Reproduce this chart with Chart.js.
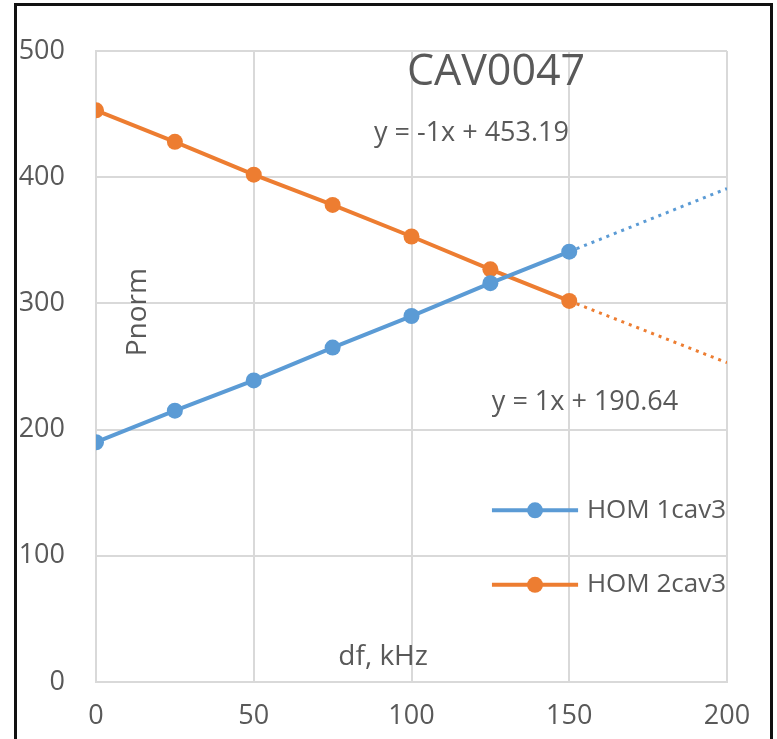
<!DOCTYPE html>
<html lang="en">
<head>
    <meta charset="UTF-8">
    <title>CAV0047</title>
    <script src="https://cdn.jsdelivr.net/npm/chart.js"></script>
    <style>
        body { margin: 0; background: #fff; }
        .wrap { position: relative; width: 777px; height: 739px; }
        .frame { position: absolute; left: 14px; top: 3px; width: 753px; height: 760px; border: 3px solid #111; pointer-events: none; }
    </style>
</head>
<body>
    <div class="wrap">
        <canvas id="myChart" width="777" height="739"></canvas>
        <div class="frame"></div>
    </div>

    <script>
        // df, kHz
        const dfValues = [0, 25, 50, 75, 100, 125, 150];
        const hom1 = [190, 215, 239, 265, 290, 316, 341];
        const hom2 = [453, 428, 402, 378, 353, 327, 302];
        // dotted trendline extensions past the last point
        const trendX = [150, 200];
        const hom1Trend = [341, 391];
        const hom2Trend = [302, 253];

        const seriesNames = ['HOM 1cav3', 'HOM 2cav3'];
        const blue = '#5b9bd5';
        const orange = '#ed7d31';
        const textColor = '#595959';
        const fontFamily = '"Open Sans", sans-serif';

        const toPoints = (xs, ys) => xs.map((x, i) => ({ x: x, y: ys[i] }));

        // text labels placed in data coordinates
        const notes = [
            { text: 'CAV0047', x: 126.8, y: 483, size: 43 },
            { text: 'y = -1x + 453.19', x: 119, y: 435, size: 27 },
            { text: 'y = 1x + 190.64', x: 155, y: 222, size: 27 },
            { text: 'df, kHz', x: 91, y: 20, size: 28 },
            { text: 'Pnorm', x: 13.3, y: 293, size: 28, rotate: true }
        ];

        const extras = {
            id: 'extras',
            afterDatasetsDraw(chart) {
                const ctx = chart.ctx;
                const xs = chart.scales.x, ys = chart.scales.y;
                ctx.save();
                ctx.fillStyle = textColor;
                ctx.textAlign = 'center';
                ctx.textBaseline = 'middle';
                notes.forEach(n => {
                    ctx.font = n.size + 'px ' + fontFamily;
                    const px = xs.getPixelForValue(n.x), py = ys.getPixelForValue(n.y);
                    if (n.rotate) {
                        ctx.save();
                        ctx.translate(px, py);
                        ctx.rotate(-Math.PI / 2);
                        ctx.fillText(n.text, 0, 0);
                        ctx.restore();
                    } else {
                        ctx.fillText(n.text, px, py);
                    }
                });

                // legend inside the plot
                const legendY = [136, 77];
                [blue, orange].forEach((c, i) => {
                    const y = ys.getPixelForValue(legendY[i]);
                    const x1 = xs.getPixelForValue(125.5), x2 = xs.getPixelForValue(152.8);
                    ctx.strokeStyle = c;
                    ctx.lineWidth = 4;
                    ctx.beginPath();
                    ctx.moveTo(x1, y);
                    ctx.lineTo(x2, y);
                    ctx.stroke();
                    ctx.fillStyle = c;
                    ctx.beginPath();
                    ctx.arc((x1 + x2) / 2, y, 8, 0, Math.PI * 2);
                    ctx.fill();
                    ctx.fillStyle = textColor;
                    ctx.textAlign = 'left';
                    ctx.font = '26px ' + fontFamily;
                    ctx.fillText(seriesNames[i], xs.getPixelForValue(155.6), y);
                });
                ctx.restore();
            }
        };

        const ctx = document.getElementById('myChart').getContext('2d');
        new Chart(ctx, {
            type: 'scatter',
            data: {
                datasets: [
                    {
                        label: seriesNames[0] + ' trend',
                        data: toPoints(trendX, hom1Trend),
                        showLine: true,
                        borderColor: blue,
                        borderWidth: 3,
                        borderDash: [3, 5],
                        pointRadius: 0
                    },
                    {
                        label: seriesNames[1] + ' trend',
                        data: toPoints(trendX, hom2Trend),
                        showLine: true,
                        borderColor: orange,
                        borderWidth: 3,
                        borderDash: [3, 5],
                        pointRadius: 0
                    },
                    {
                        label: seriesNames[0],
                        data: toPoints(dfValues, hom1),
                        showLine: true,
                        borderColor: blue,
                        backgroundColor: blue,
                        borderWidth: 4,
                        pointRadius: 8,
                        pointBorderWidth: 0
                    },
                    {
                        label: seriesNames[1],
                        data: toPoints(dfValues, hom2),
                        showLine: true,
                        borderColor: orange,
                        backgroundColor: orange,
                        borderWidth: 4,
                        pointRadius: 8,
                        pointBorderWidth: 0
                    }
                ]
            },
            options: {
                responsive: false,
                animation: false,
                layout: { padding: { top: 51, right: 50, left: 0, bottom: 0 } },
                plugins: {
                    legend: { display: false },
                    tooltip: { enabled: false }
                },
                scales: {
                    x: {
                        type: 'linear',
                        min: 0,
                        max: 200,
                        ticks: { stepSize: 50, color: textColor, font: { family: fontFamily, size: 27 }, padding: 18, maxRotation: 0 },
                        grid: { color: '#d9d9d9', lineWidth: 2, drawTicks: false },
                        border: { color: '#d9d9d9', width: 2 },
                        afterFit: s => { s.height = 57; }
                    },
                    y: {
                        min: 0,
                        max: 500,
                        ticks: { stepSize: 100, color: textColor, font: { family: fontFamily, size: 27 }, padding: 31 },
                        grid: { color: '#d9d9d9', lineWidth: 2, drawTicks: false },
                        border: { color: '#d9d9d9', width: 2 },
                        afterFit: s => { s.width = 96; }
                    }
                }
            },
            plugins: [extras]
        });
    </script>
</body>
</html>
